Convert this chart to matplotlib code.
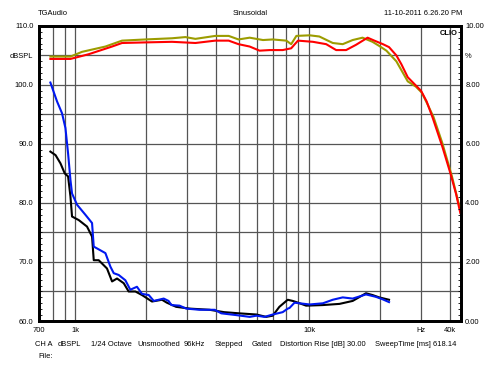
import matplotlib
matplotlib.use('Agg')
import matplotlib.pyplot as plt
from matplotlib.ticker import FixedLocator, NullFormatter

plt.rcParams['font.family'] = ['Liberation Sans', 'DejaVu Sans']
fs = 5.4

# upper curves (dBSPL)
olive_f = [783, 954, 1069, 1346, 1585, 1995, 2592, 2958, 3264, 3970, 4530, 4990, 5570,
           6350, 6990, 7990, 8380, 8820, 10050, 11060, 12620, 13920, 15350, 16920, 18660,
           19940, 21400, 23600, 26400, 28600, 30300, 32000, 34000, 37140, 40800, 43520, 44300]
olive_db = [104.8, 104.8, 105.6, 106.5, 107.5, 107.7, 107.9, 108.1, 107.8, 108.3, 108.3, 107.7, 108.0,
            107.6, 107.7, 107.5, 106.9, 108.3, 108.4, 108.2, 107.1, 106.9, 107.6, 108.0, 107.3,
            106.6, 105.8, 104.0, 100.6, 99.7, 98.7, 96.8, 94.6, 90.1, 84.5, 80.0, 79.5]

red_f = [783, 954, 1142, 1437, 1585, 1995, 2592, 3264, 3970, 4530, 4990, 5570, 6140,
         6780, 7710, 8380, 8960, 10380, 11830, 13050, 14390, 15880, 17780, 19010, 20680,
         21960, 23600, 24800, 26400, 28600, 30100, 31800, 33700, 37140, 40200, 42500, 44300]
red_db = [104.4, 104.4, 105.2, 106.5, 107.1, 107.2, 107.3, 107.1, 107.5, 107.5, 106.9, 106.5, 105.8,
          105.9, 105.9, 106.2, 107.5, 107.3, 106.9, 105.9, 105.9, 106.8, 108.0, 107.5, 106.9,
          106.4, 105.0, 103.5, 101.3, 99.9, 99.0, 97.2, 94.5, 89.5, 85.0, 81.5, 78.3]

# lower curves (dBSPL)
blue_f = [783, 836, 878, 908, 932, 954, 969, 1018, 1105, 1180, 1200, 1239, 1346, 1414, 1461,
          1534, 1638, 1720, 1836, 1929, 2062, 2167, 2389, 2506, 2578, 2793, 2983, 3404, 3945,
          4212, 4878, 5570, 5950, 6450, 6990, 7710, 8100, 8240, 8660, 9100, 10050, 11450,
          12620, 13920, 15350, 17500, 19280, 20560, 21960]
blue_db = [100.4, 97.2, 95.2, 92.7, 88.4, 83.9, 81.6, 79.7, 78.0, 76.6, 72.6, 72.3, 71.5, 69.2, 68.1,
           67.8, 66.9, 65.3, 65.8, 64.6, 64.4, 63.4, 63.8, 63.4, 62.7, 62.6, 62.1, 61.9, 61.9,
           61.3, 61.0, 60.7, 60.9, 60.7, 61.1, 61.5, 62.1, 62.2, 63.1, 63.0, 62.8, 63.0,
           63.6, 64.0, 63.8, 64.5, 64.1, 63.7, 63.2]

black_f = [783, 824, 865, 902, 932, 954, 969, 1035, 1123, 1180, 1200, 1260, 1367, 1437, 1509,
           1612, 1692, 1808, 1929, 2129, 2350, 2465, 2700, 3090, 3750, 4330, 5020, 5950, 6550,
           6990, 7460, 8100, 8510, 8820, 9710, 11450, 13490, 15350, 17500, 18660, 19940, 21960]
black_db = [88.7, 88.1, 86.7, 85.0, 84.5, 81.1, 77.7, 77.1, 76.0, 74.3, 70.3, 70.3, 68.9, 66.7, 67.2,
            66.4, 65.0, 65.0, 64.4, 63.3, 63.6, 63.1, 62.4, 62.1, 61.9, 61.5, 61.3, 61.1, 60.7,
            60.9, 62.4, 63.6, 63.4, 63.2, 62.6, 62.7, 62.9, 63.4, 64.7, 64.4, 64.0, 63.6]

grid_f = [800, 900, 1000, 2000, 3000, 4000, 5000, 6000, 7000, 8000, 9000, 10000, 20000, 30000, 40000]
x_ticks = [700, 1000, 10000, 30000, 40000]
x_labels = ['700', '1k', '10k', 'Hz', '40k']
left_ticks = [60, 70, 80, 90, 100, 105, 110]
left_labels = ['60.0', '70.0', '80.0', '90.0', '100.0', 'dBSPL', '110.0']
right_ticks = [0, 2, 4, 6, 8, 9, 10]
right_labels = ['0.00', '2.00', '4.00', '6.00', '8.00', '%', '10.00']

fig = plt.figure(figsize=(5, 3.75), dpi=100)
ax = fig.add_axes([0.078, 0.144, 0.844, 0.787])
ax.set_xscale('log')
ax.set_xlim(700, 44600)
ax.set_ylim(60, 110)

for f in grid_f:
    ax.axvline(f, color='#555555', lw=0.9, zorder=1)
for y in range(65, 110, 5):
    ax.axhline(y, color='#555555', lw=0.9, zorder=1)

ax.plot(olive_f, olive_db, color='#9c9c00', lw=1.5, zorder=3)
ax.plot(red_f, red_db, color='#ff0000', lw=1.5, zorder=3)
ax.plot(black_f, black_db, color='#000000', lw=1.5, zorder=3)
ax.plot(blue_f, blue_db, color='#0018f0', lw=1.5, zorder=4)

ax.xaxis.set_major_locator(FixedLocator(x_ticks))
ax.xaxis.set_minor_locator(FixedLocator([]))
ax.set_xticklabels(x_labels)
ax.xaxis.set_minor_formatter(NullFormatter())
ax.tick_params(axis='x', length=0, pad=4, labelsize=fs)

ax.set_yticks(left_ticks, labels=left_labels)
ax.yaxis.set_minor_locator(FixedLocator(range(60, 111)))
ax.tick_params(axis='y', which='major', length=0, pad=4, labelsize=fs)
ax.tick_params(axis='y', which='minor', direction='in', length=2.5, width=0.6)

ax2 = ax.twinx()
ax2.set_ylim(0, 10)
ax2.set_yticks(right_ticks, labels=right_labels)
ax2.yaxis.set_minor_locator(FixedLocator([i * 0.2 for i in range(51)]))
ax2.tick_params(axis='y', which='major', length=0, pad=3, labelsize=fs)
ax2.tick_params(axis='y', which='minor', direction='in', length=2.5, width=0.6)

for a in (ax, ax2):
    for s in a.spines.values():
        s.set_linewidth(2)
        s.set_color('black')

ax.text(0.993, 0.985, 'CLIO', transform=ax.transAxes, ha='right', va='top',
        fontsize=fs, fontweight='bold', zorder=5)

# header and footer text
fig.text(0.076, 0.963, 'TGAudio', ha='left', va='center', fontsize=fs)
fig.text(0.5, 0.963, 'Sinusoidal', ha='center', va='center', fontsize=fs)
fig.text(0.924, 0.963, '11-10-2011 6.26.20 PM', ha='right', va='center', fontsize=fs)

footer = [(35, 'CH A'), (58, 'dBSPL'), (91, '1/24 Octave'), (137, 'Unsmoothed'),
          (184, '96kHz'), (215, 'Stepped'), (252, 'Gated'),
          (280, 'Distortion Rise [dB] 30.00'), (375, 'SweepTime [ms] 618.14')]
for xp, t in footer:
    fig.text(xp / 500, 1 - 344 / 375, t, ha='left', va='center', fontsize=fs)
fig.text(38 / 500, 1 - 357 / 375, 'File:', ha='left', va='center', fontsize=fs)

fig.savefig('out.png', dpi=100, facecolor='white')
